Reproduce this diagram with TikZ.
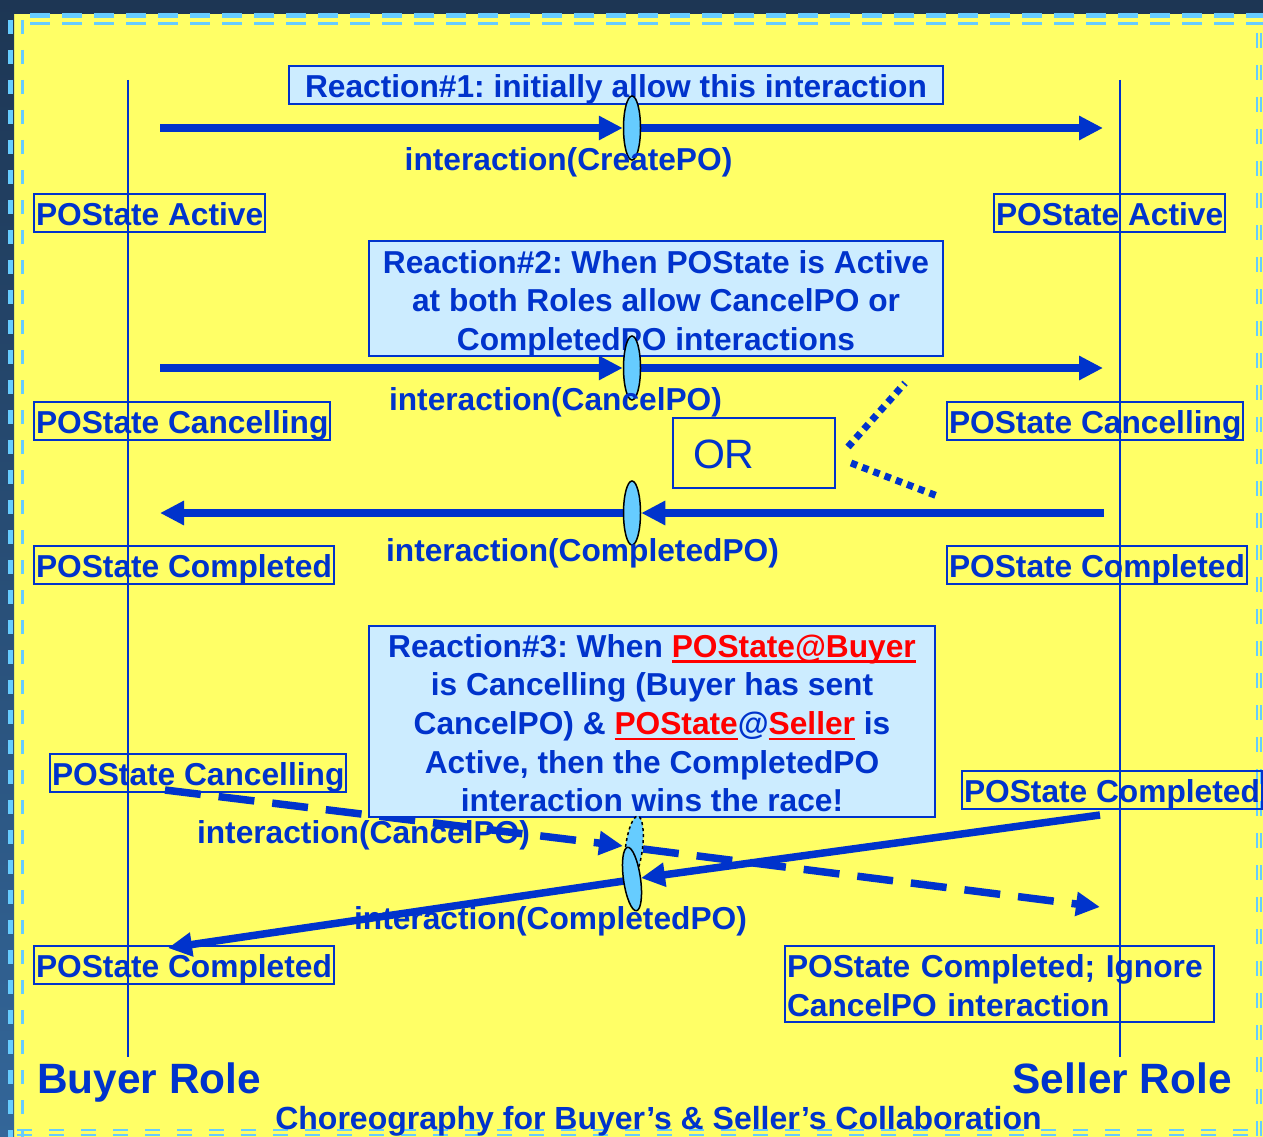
\documentclass[tikz,border=0pt]{standalone}
\usepackage{fontspec}
\setmainfont{Liberation Sans}
\usetikzlibrary{arrows.meta,shapes.geometric}
\definecolor{myblue}{HTML}{0033CC}
\definecolor{bgyellow}{HTML}{FFFF66}
\definecolor{boxfill}{HTML}{CCECFF}
\definecolor{gatefill}{HTML}{66CCFF}
\definecolor{frameblue}{HTML}{66CCFF}
\definecolor{navy}{HTML}{1D3654}
\definecolor{navylight}{HTML}{336699}
\newcommand\redul[1]{{\color{red}\setbox0\hbox{#1}\rlap{\rule[-5.7pt]{\wd0}{2.7pt}}\box0}}
\frenchspacing
\pgfdeclarelayer{bg}\pgfdeclarelayer{mid}\pgfsetlayers{bg,mid,main}
\tikzset{
  lbl/.style={font=\bfseries\fontsize{31.7pt}{38.6pt}\selectfont, text=myblue, inner sep=0pt},
  statebox/.style={lbl, draw=myblue, line width=2pt, inner xsep=2pt, inner ysep=0pt, text height=31pt, text depth=7pt, anchor=west},
  reactbox/.style={lbl, draw=myblue, line width=2pt, fill=boxfill, align=center},
  msg/.style={line width=7.5pt, draw=myblue, -{Triangle[length=24pt,width=23pt]}},
  dmsg/.style={msg, dash pattern=on 36pt off 18pt},
  lifeline/.style={draw=myblue, line width=1.5pt},
  gate/.style={ellipse, draw=black, line width=1.5pt, fill=gatefill, minimum width=17pt, minimum height=64pt, inner sep=0pt},
  dotline/.style={draw=myblue, line width=7pt, dash pattern=on 6.5pt off 5.5pt},
  framedash/.style={draw=frameblue},
  role/.style={font=\bfseries\fontsize{42.4pt}{50pt}\selectfont, text=myblue, inner sep=0pt},
}
\begin{document}
\begin{tikzpicture}[x=1pt,y=-1pt]
\useasboundingbox (0,0) rectangle (1263,1137);
\begin{pgfonlayer}{bg}
  \fill[bgyellow] (0,0) rectangle (1263,1137);
  \fill[navy] (0,0) rectangle (1263,14);
  \shade[top color=navy,bottom color=navylight] (0,0) rectangle (14,1137);
  \draw[framedash, line width=5pt, dash pattern=on 20pt off 12pt] (30,16) -- (1263,16);
  \draw[framedash, line width=3pt, dash pattern=on 20pt off 12pt] (30,23.5) -- (1263,23.5);
  \draw[framedash, line width=5pt, dash pattern=on 14pt off 16pt] (10,20) -- (10,1137);
  \draw[framedash, line width=3pt, dash pattern=on 14pt off 16pt] (22.5,20) -- (22.5,1137);
  \draw[framedash, line width=2.5pt, dash pattern=on 15pt off 17pt] (1257,33) -- (1257,1137);
  \draw[framedash, line width=2pt, dash pattern=on 15pt off 17pt] (1261,33) -- (1261,1137);
  \draw[framedash, line width=2.5pt, dash pattern=on 15pt off 17pt] (17,1130) -- (1263,1130);
  \draw[framedash, line width=2pt, dash pattern=on 15pt off 17pt] (17,1135) -- (1263,1135);
\end{pgfonlayer}

% coordinates
\coordinate (bt) at (128,80);   \coordinate (bb) at (128,1057);
\coordinate (st) at (1120,80);  \coordinate (sb) at (1120,1057);
\coordinate (a1s) at (160,128); \coordinate (a1e) at (1103,128);
\coordinate (a2s) at (160,368); \coordinate (a2e) at (1103,368);
\coordinate (a3s) at (1104,513); \coordinate (a3e) at (160,513);
\coordinate (d1) at (165,790); \coordinate (d2) at (623,846);
\coordinate (d3) at (643,849); \coordinate (d4) at (1100,907);
\coordinate (c1) at (1100,815); \coordinate (c2) at (641,878);
\coordinate (c3) at (624,881); \coordinate (c4) at (168,948);
\coordinate (o1) at (848,447); \coordinate (o2) at (905,383);
\coordinate (o3) at (851,463); \coordinate (o4) at (940,497);

% state boxes
\node[statebox] (sa1) at (33,213) {POState Active};
\node[statebox] (sa2) at (993,213) {POState Active};
\node[statebox] (sc1) at (33,421) {POState Cancelling};
\node[statebox] (sc2) at (946,421) {POState Cancelling};
\node[statebox] (sd1) at (33,565) {POState Completed};
\node[statebox] (sd2) at (946,565) {POState Completed};
\node[statebox] (sc3) at (49,773) {POState Cancelling};
\node[statebox] (sd3) at (961,790) {POState Completed};
\node[statebox] (sd4) at (33,965) {POState Completed};
\node[lbl, draw=myblue, line width=2pt, inner xsep=2pt, inner ysep=0pt, minimum width=429pt, minimum height=76pt, text width=425pt, align=left] (ign) at (999.5,984)
  {\rule[-5pt]{0pt}{34pt}POState Completed; Ignore\\ CancelPO interaction\rule[-3.4pt]{0pt}{1pt}};

% reaction boxes
\node[reactbox, text height=31pt, text depth=7pt, inner ysep=0pt, minimum width=654pt] (r1) at (616,85.5)
  {Reaction\#1: initially allow this interaction};
\node[reactbox, minimum width=574pt, minimum height=115pt, text depth=0.5pt] (r2) at (656,298.5)
  {\rule[-5pt]{0pt}{32pt}Reaction\#2: When POState is Active\\ at both Roles allow CancelPO or\\ CompletedPO interactions};
\node[reactbox, minimum width=566pt, minimum height=191pt, text depth=0pt] (r3) at (652,721.5)
  {\rule[-5pt]{0pt}{31pt}Reaction\#3: When \redul{POState@Buyer}\\ is Cancelling (Buyer has sent\\ CancelPO) \& \redul{POState}@\redul{Seller} is\\ Active, then the CompletedPO\\ interaction wins the race!};

% OR box
\node[draw=myblue, line width=2pt, text=myblue, font=\fontsize{41pt}{48pt}\selectfont, minimum width=162pt, minimum height=70pt, text width=122pt, align=left, inner xsep=20pt, inner ysep=0pt, text height=30pt, text depth=0pt] (or) at (754,453) {OR};

% gates
\node[gate] (e1) at (632,128) {};
\node[gate] (e2) at (632,368) {};
\node[gate] (e3) at (632,513) {};
\node[gate, dashed, rotate=-7] (ed) at (634,848) {};
\node[gate, rotate=8] (es) at (632,879) {};

% labels
\node[lbl, anchor=base] (l1) at (568.5,170) {interaction(CreatePO)};
\node[lbl, anchor=base] (l2) at (555.5,410) {interaction(CancelPO)};
\node[lbl, anchor=base] (l3) at (582.5,561) {interaction(CompletedPO)};
\node[lbl, anchor=base] (l4) at (363.5,843) {interaction(CancelPO)};
\node[lbl, anchor=base] (l5) at (550.5,929) {interaction(CompletedPO)};

\node[role, anchor=base west] (buyer) at (37,1093) {Buyer Role};
\node[role, anchor=base east] (seller) at (1232,1093) {Seller Role};
\node[lbl, font=\bfseries\fontsize{32pt}{36pt}\selectfont, anchor=base] (cap) at (658.5,1129) {Choreography for Buyer’s \& Seller’s Collaboration};

\begin{pgfonlayer}{mid}
  \draw[lifeline] (bt) -- (bb);
  \draw[lifeline] (st) -- (sb);
  \draw[msg] (a1s) -- (e1.west);
  \draw[msg] (e1.east) -- (a1e);
  \draw[msg] (a2s) -- (e2.west);
  \draw[msg] (e2.east) -- (a2e);
  \draw[msg] (a3s) -- (e3.east);
  \draw[msg] (e3.west) -- (a3e);
  \draw[dmsg] (d1) -- (d2);
  \draw[dmsg] (d3) -- (d4);
  \draw[msg] (c1) -- (c2);
  \draw[msg] (c3) -- (c4);
  \draw[dotline] (o1) -- (o2);
  \draw[dotline] (o3) -- (o4);
\end{pgfonlayer}
\end{tikzpicture}
\end{document}
